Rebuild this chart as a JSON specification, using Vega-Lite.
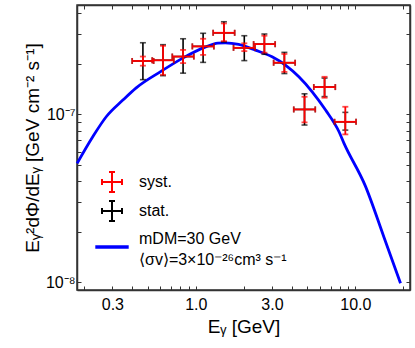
{
  "$schema": "https://vega.github.io/schema/vega-lite/v6.json",
  "width": 333,
  "height": 285,
  "autosize": {"type": "none"},
  "padding": {"left": 77, "top": 5, "right": 5, "bottom": 58},
  "background": "white",
  "config": {
    "view": {"stroke": "#333", "strokeWidth": 1.5},
    "font": "Liberation Sans"
  },
  "datasets": {
    "curve": [
      {"E": 0.1803, "F": 5.11e-8, "series": "model"},
      {"E": 0.226, "F": 7.36e-8, "series": "model"},
      {"E": 0.2744, "F": 9.68e-8, "series": "model"},
      {"E": 0.3489, "F": 1.216e-7, "series": "model"},
      {"E": 0.4212, "F": 1.434e-7, "series": "model"},
      {"E": 0.6047, "F": 1.803e-7, "series": "model"},
      {"E": 0.8283, "F": 2.163e-7, "series": "model"},
      {"E": 1.134, "F": 2.505e-7, "series": "model"},
      {"E": 1.375, "F": 2.657e-7, "series": "model"},
      {"E": 1.529, "F": 2.668e-7, "series": "model"},
      {"E": 1.856, "F": 2.61e-7, "series": "model"},
      {"E": 2.36, "F": 2.414e-7, "series": "model"},
      {"E": 3.006, "F": 2.202e-7, "series": "model"},
      {"E": 3.644, "F": 1.966e-7, "series": "model"},
      {"E": 4.425, "F": 1.674e-7, "series": "model"},
      {"E": 5.364, "F": 1.363e-7, "series": "model"},
      {"E": 6.506, "F": 1.061e-7, "series": "model"},
      {"E": 7.899, "F": 7.88e-8, "series": "model"},
      {"E": 8.49, "F": 6.72e-8, "series": "model"},
      {"E": 11.56, "F": 3.74e-8, "series": "model"},
      {"E": 15.07, "F": 1.87e-8, "series": "model"},
      {"E": 19.19, "F": 9.86e-9, "series": "model"}
    ],
    "stat": [
      {"E": 0.466, "Elo": 0.399, "Ehi": 0.544, "F": 2.08e-7, "Flo": 1.61e-7, "Fhi": 2.67e-7, "series": "stat."},
      {"E": 0.623, "Elo": 0.533, "Ehi": 0.728, "F": 2.1e-7, "Flo": 1.7e-7, "Fhi": 2.6e-7, "series": "stat."},
      {"E": 0.832, "Elo": 0.712, "Ehi": 0.972, "F": 2.21e-7, "Flo": 1.76e-7, "Fhi": 2.82e-7, "series": "stat."},
      {"E": 1.111, "Elo": 0.951, "Ehi": 1.298, "F": 2.54e-7, "Flo": 2.04e-7, "Fhi": 3.04e-7, "series": "stat."},
      {"E": 1.5, "Elo": 1.284, "Ehi": 1.752, "F": 3.06e-7, "Flo": 2.7e-7, "Fhi": 3.56e-7, "series": "stat."},
      {"E": 2.013, "Elo": 1.723, "Ehi": 2.351, "F": 2.49e-7, "Flo": 2.09e-7, "Fhi": 2.94e-7, "series": "stat."},
      {"E": 2.69, "Elo": 2.303, "Ehi": 3.142, "F": 2.62e-7, "Flo": 2.28e-7, "Fhi": 3.01e-7, "series": "stat."},
      {"E": 3.59, "Elo": 3.074, "Ehi": 4.193, "F": 2.03e-7, "Flo": 1.75e-7, "Fhi": 2.34e-7, "series": "stat."},
      {"E": 4.8, "Elo": 4.11, "Ehi": 5.606, "F": 1.07e-7, "Flo": 8.64e-8, "Fhi": 1.326e-7, "series": "stat."},
      {"E": 6.41, "Elo": 5.488, "Ehi": 7.487, "F": 1.454e-7, "Flo": 1.276e-7, "Fhi": 1.645e-7, "series": "stat."},
      {"E": 8.65, "Elo": 7.406, "Ehi": 10.1, "F": 9.03e-8, "Flo": 8.06e-8, "Fhi": 1.028e-7, "series": "stat."}
    ],
    "syst": [
      {"E": 0.466, "Elo": 0.399, "Ehi": 0.544, "F": 2.08e-7, "Flo": 1.95e-7, "Fhi": 2.21e-7, "series": "syst."},
      {"E": 0.623, "Elo": 0.533, "Ehi": 0.728, "F": 2.1e-7, "Flo": 1.72e-7, "Fhi": 2.56e-7, "series": "syst."},
      {"E": 0.832, "Elo": 0.712, "Ehi": 0.972, "F": 2.21e-7, "Flo": 2.02e-7, "Fhi": 2.42e-7, "series": "syst."},
      {"E": 1.111, "Elo": 0.951, "Ehi": 1.298, "F": 2.54e-7, "Flo": 2.26e-7, "Fhi": 2.82e-7, "series": "syst."},
      {"E": 1.5, "Elo": 1.284, "Ehi": 1.752, "F": 3.06e-7, "Flo": 2.73e-7, "Fhi": 3.48e-7, "series": "syst."},
      {"E": 2.013, "Elo": 1.723, "Ehi": 2.351, "F": 2.49e-7, "Flo": 2.38e-7, "Fhi": 2.65e-7, "series": "syst."},
      {"E": 2.69, "Elo": 2.303, "Ehi": 3.142, "F": 2.62e-7, "Flo": 2.33e-7, "Fhi": 2.94e-7, "series": "syst."},
      {"E": 3.59, "Elo": 3.074, "Ehi": 4.193, "F": 2.03e-7, "Flo": 1.79e-7, "Fhi": 2.29e-7, "series": "syst."},
      {"E": 4.8, "Elo": 4.11, "Ehi": 5.606, "F": 1.07e-7, "Flo": 8.96e-8, "Fhi": 1.273e-7, "series": "syst."},
      {"E": 6.41, "Elo": 5.488, "Ehi": 7.487, "F": 1.454e-7, "Flo": 1.256e-7, "Fhi": 1.674e-7, "series": "syst."},
      {"E": 8.65, "Elo": 7.406, "Ehi": 10.1, "F": 9.03e-8, "Flo": 7.6e-8, "Fhi": 1.11e-7, "series": "syst."}
    ]
  },
  "resolve": {"axis": {"x": "independent", "y": "independent"}},
  "layer": [
    {
      "data": {"name": "curve"},
      "mark": {"type": "line", "strokeWidth": 2.8, "interpolate": "monotone"},
      "encoding": {
        "x": {
          "field": "E", "type": "quantitative",
          "scale": {"type": "log", "domain": [0.18, 22], "nice": false},
          "axis": {
            "orient": "bottom",
            "values": [0.2, 0.3, 0.4, 0.5, 0.6, 0.7, 0.8, 0.9, 1, 2, 3, 4, 5, 6, 7, 8, 9, 10, 20],
            "labelExpr": "datum.value == 0.3 || datum.value == 1 || datum.value == 3 || datum.value == 10 ? format(datum.value, '.1f') : ''",
            "tickSize": -4, "tickColor": "#333", "tickWidth": 1,
            "domainColor": "#333", "domainWidth": 1.5,
            "labelFont": "Liberation Sans", "labelFontSize": 16, "labelColor": "#000",
            "labelPadding": 10, "labelFlush": false, "labelOverlap": false,
            "grid": false,
            "title": "Eᵧ [GeV]", "titleFont": "Liberation Sans", "titleFontSize": 19,
            "titleFontWeight": "normal", "titleColor": "#000", "titlePadding": 5
          }
        },
        "y": {
          "field": "F", "type": "quantitative",
          "scale": {"type": "log", "domain": [9.0e-9, 4.48e-7], "nice": false},
          "axis": {
            "orient": "left",
            "values": [1e-8, 2e-8, 3e-8, 4e-8, 5e-8, 6e-8, 7e-8, 8e-8, 9e-8, 1e-7, 2e-7, 3e-7, 4e-7],
            "labelExpr": "datum.value == 1e-7 ? '10⁻⁷' : (datum.value == 1e-8 ? '10⁻⁸' : '')",
            "tickSize": -4, "tickColor": "#333", "tickWidth": 1,
            "domainColor": "#333", "domainWidth": 1.5,
            "labelFont": "Liberation Sans", "labelFontSize": 16, "labelColor": "#000",
            "labelPadding": 6, "labelFlush": false, "labelOverlap": false,
            "grid": false,
            "title": "Eᵧ²dΦ/dEᵧ [GeV cm⁻² s⁻¹]", "titleFont": "Liberation Sans", "titleFontSize": 19,
            "titleFontWeight": "normal", "titleColor": "#000", "titlePadding": 3
          }
        },
        "color": {
          "field": "series", "type": "nominal",
          "scale": {"domain": ["syst.", "stat.", "model"], "range": ["#ff0000", "#000000", "#0000ff"]},
          "legend": {
            "orient": "none", "legendX": 27, "legendY": 169, "title": null, "padding": 0,
            "labelFont": "Liberation Sans", "labelFontSize": 16, "labelColor": "#000",
            "symbolSize": 400, "symbolStrokeWidth": 2, "rowPadding": 1, "labelOffset": 19,
            "symbolType": "M-1,0H1M0,-1V1M-1,-0.3V0.3M1,-0.3V0.3M-0.3,-1H0.3M-0.3,1H0.3",
            "labelExpr": "datum.value === 'model' ? ['mDM=30 GeV', '⟨σv⟩=3×10⁻²⁶cm³ s⁻¹'] : datum.label",
            "encode": {
              "symbols": {
                "update": {
                  "shape": {"signal": "datum.value === 'model' ? 'M-1.67,1.3H1.67' : 'M-1,0H1M0,-1V1M-1,-0.3V0.3M1,-0.3V0.3M-0.3,-1H0.3M-0.3,1H0.3'"},
                  "strokeWidth": {"signal": "datum.value === 'model' ? 3.5 : 2"},
                  "fill": {"value": "transparent"}
                }
              },
              "labels": {"update": {"lineHeight": {"value": 21}, "dy": {"signal": "datum.value === 'model' ? 5 : 0"}}}
            }
          }
        }
      }
    },
    {
      "data": {"name": "curve"},
      "mark": {"type": "line", "opacity": 0},
      "encoding": {
        "x": {
          "field": "E", "type": "quantitative",
          "scale": {"type": "log", "domain": [0.18, 22], "nice": false},
          "axis": {
            "orient": "top",
            "values": [0.2, 0.3, 0.4, 0.5, 0.6, 0.7, 0.8, 0.9, 1, 2, 3, 4, 5, 6, 7, 8, 9, 10, 20],
            "labels": false, "title": null, "grid": false,
            "tickSize": -4, "tickColor": "#333", "tickWidth": 1,
            "domainColor": "#333", "domainWidth": 1.5
          }
        },
        "y": {
          "field": "F", "type": "quantitative",
          "scale": {"type": "log", "domain": [9.0e-9, 4.48e-7], "nice": false},
          "axis": {
            "orient": "right",
            "values": [1e-8, 2e-8, 3e-8, 4e-8, 5e-8, 6e-8, 7e-8, 8e-8, 9e-8, 1e-7, 2e-7, 3e-7, 4e-7],
            "labels": false, "title": null, "grid": false,
            "tickSize": -4, "tickColor": "#333", "tickWidth": 1,
            "domainColor": "#333", "domainWidth": 1.5
          }
        }
      }
    },
    {
      "data": {"name": "stat"},
      "mark": {"type": "errorbar", "orient": "vertical", "ticks": true, "size": 6, "thickness": 1.6},
      "encoding": {
        "x": {"field": "E", "type": "quantitative", "scale": {"type": "log", "domain": [0.18, 22], "nice": false}, "axis": null},
        "y": {"field": "Flo", "type": "quantitative", "scale": {"type": "log", "domain": [9.0e-9, 4.48e-7], "nice": false}, "axis": null},
        "y2": {"field": "Fhi"},
        "color": {"field": "series", "type": "nominal"}
      }
    },
    {
      "data": {"name": "stat"},
      "mark": {"type": "errorbar", "orient": "horizontal", "ticks": true, "size": 6, "thickness": 1.6},
      "encoding": {
        "x": {"field": "Elo", "type": "quantitative", "scale": {"type": "log", "domain": [0.18, 22], "nice": false}, "axis": null},
        "x2": {"field": "Ehi"},
        "y": {"field": "F", "type": "quantitative", "scale": {"type": "log", "domain": [9.0e-9, 4.48e-7], "nice": false}, "axis": null},
        "color": {"field": "series", "type": "nominal"}
      }
    },
    {
      "data": {"name": "syst"},
      "mark": {"type": "errorbar", "orient": "vertical", "ticks": true, "size": 6, "thickness": 1.8},
      "encoding": {
        "x": {"field": "E", "type": "quantitative", "scale": {"type": "log", "domain": [0.18, 22], "nice": false}, "axis": null},
        "y": {"field": "Flo", "type": "quantitative", "scale": {"type": "log", "domain": [9.0e-9, 4.48e-7], "nice": false}, "axis": null},
        "y2": {"field": "Fhi"},
        "color": {"field": "series", "type": "nominal"}
      }
    },
    {
      "data": {"name": "syst"},
      "mark": {"type": "errorbar", "orient": "horizontal", "ticks": true, "size": 6, "thickness": 1.8},
      "encoding": {
        "x": {"field": "Elo", "type": "quantitative", "scale": {"type": "log", "domain": [0.18, 22], "nice": false}, "axis": null},
        "x2": {"field": "Ehi"},
        "y": {"field": "F", "type": "quantitative", "scale": {"type": "log", "domain": [9.0e-9, 4.48e-7], "nice": false}, "axis": null},
        "color": {"field": "series", "type": "nominal"}
      }
    }
  ]
}
